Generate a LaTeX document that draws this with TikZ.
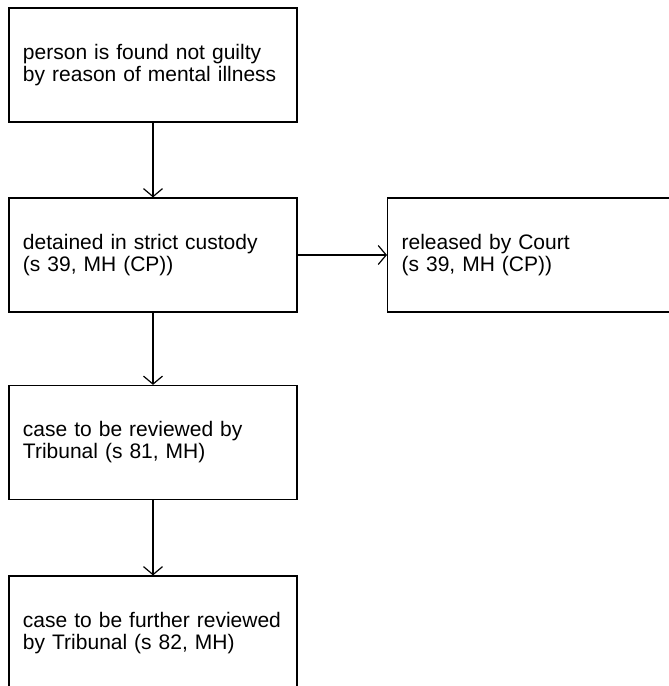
\documentclass[tikz,border=0pt]{standalone}
\usepackage{fontspec}
\setmainfont{Liberation Sans}
\usetikzlibrary{arrows.meta}
\tikzset{
  box/.style={draw, line width=1.2pt, minimum height=114pt, inner xsep=14pt,
    text width=260pt, align=left,
    font=\fontsize{21pt}{22pt}\selectfont},
  wbox/.style={box, text width=272pt},
  conn/.style={line width=1.2pt, -{Straight Barb[length=8pt,width=19pt,line width=1.2pt]}}
}
\begin{document}
\begin{tikzpicture}[x=1pt,y=-1pt]
\useasboundingbox (0,0) rectangle (669,686);
\node[box] (b1) at (153,65) {person is found not guilty\\by reason of mental illness};
\node[box] (b2) at (153,255) {detained in strict custody\\(s 39, MH (CP))};
\node[wbox, anchor=west] (b5) at (387,255) {released by Court\\(s 39, MH (CP))};
\node[box] (b3) at (153,442.5) {case to be reviewed by\\Tribunal (s 81, MH)};
\node[box] (b4) at (153,633) {case to be further reviewed\\by Tribunal (s 82, MH)};
\draw[conn] (b1) -- (b2);
\draw[conn] (b2) -- (b5);
\draw[conn] (b2) -- (b3);
\draw[conn] (b3) -- (b4);
\end{tikzpicture}
\end{document}
